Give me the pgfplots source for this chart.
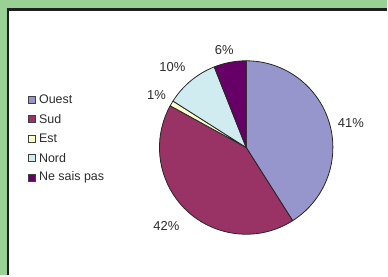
\documentclass[border=0pt]{standalone}
\usepackage{fontspec}
\setmainfont{Liberation Sans}
\usepackage{pgfplots}
\pgfplotsset{compat=1.18}
\definecolor{framegreen}{RGB}{152,208,150}
\definecolor{ouest}{RGB}{150,150,204}
\definecolor{sud}{RGB}{153,51,102}
\definecolor{est}{RGB}{255,255,204}
\definecolor{nord}{RGB}{208,236,240}
\definecolor{nsp}{RGB}{102,0,102}
\definecolor{txt}{RGB}{45,45,45}
\begin{document}
\begin{tikzpicture}
\begin{axis}[
  scale only axis, width=388bp, height=276bp,
  xmin=0, xmax=388, ymin=0, ymax=276, y dir=reverse,
  hide axis, clip=false]
\fill[framegreen] (axis cs:0,0) rectangle (axis cs:388,276);
\fill[white] (axis cs:7.5,9.5) rectangle (axis cs:388,276);
\draw[line width=2.6bp, black!88] (axis cs:8,276) |- (axis cs:388,9.3);
\pgfplotsextra{%
  \gdef\cum{0}%
  \foreach \v/\c/\lx/\ly in {41/ouest/352/123, 42/sud/167/227, 1/est/157/95, 10/nord/173/67, 6/nsp/225/50} {%
    \pgfmathsetmacro\sa{90-3.6*\cum}%
    \pgfmathsetmacro\ea{90-3.6*(\cum+\v)}%
    \filldraw[fill=\c, draw=black!85, line width=0.8bp, line join=round]
      (axis cs:247,148) -- ++(\sa:87bp) arc[start angle=\sa, end angle=\ea, radius=87bp] -- cycle;
    \node[text=txt, font=\fontsize{13bp}{15bp}\selectfont, inner sep=0pt] at (axis cs:\lx,\ly) {\v\%};
    \pgfmathsetmacro\newcum{\cum+\v}%
    \xdef\cum{\newcum}%
  }%
  \foreach \n/\c/\yy in {Ouest/ouest/100, Sud/sud/119.5, Est/est/139, Nord/nord/158.5, Ne sais pas/nsp/178} {%
    \pgfmathsetmacro\ya{\yy-3.5}%
    \pgfmathsetmacro\yb{\yy+3.5}%
    \filldraw[fill=\c, draw=black!75, line width=0.6bp] (axis cs:28,\ya) rectangle (axis cs:35,\yb);
    \node[text=txt, anchor=west, inner sep=0pt, font=\fontsize{12.5bp}{15bp}\selectfont] at (axis cs:39,\yy) {\n};
  }%
}
\end{axis}
\end{tikzpicture}
\end{document}
